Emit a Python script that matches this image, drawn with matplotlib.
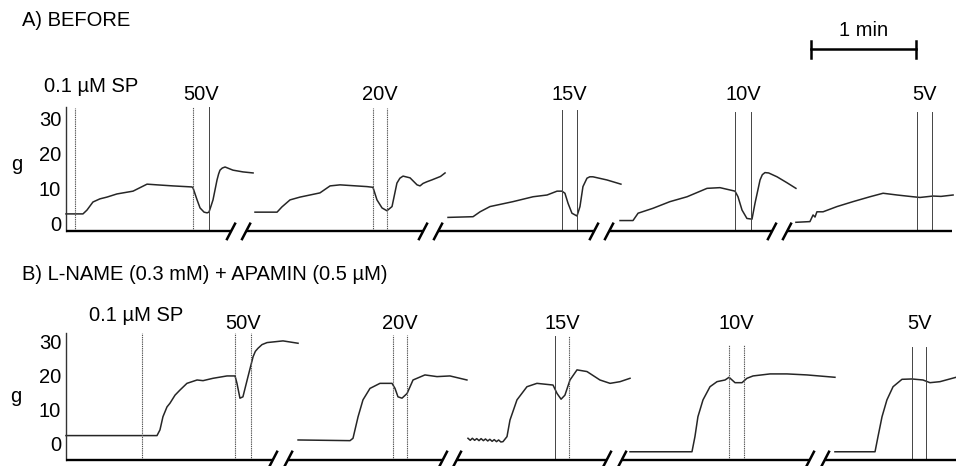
import matplotlib
matplotlib.use("Agg")
import matplotlib.pyplot as plt

plt.rcParams["font.family"] = ["Liberation Sans", "DejaVu Sans"]
plt.rcParams["font.size"] = 14.5

# ---------------------------------------------------------------------------
# Tension recordings (time in s along the displayed chart, tension in g)
# ---------------------------------------------------------------------------
# A) before
a1_t = [0, 9.7, 12.0, 15.4, 19.4, 23.4, 29.1, 38.3, 42.3, 46.3, 52.0, 61.1, 72.0, 72.6,
        74.9, 76.6, 78.9, 80.6, 81.7, 82.9, 84.0, 86.3, 87.2, 88.0, 89.3, 90.9, 95.4,
        101.1, 106.9]
a1_g = [2.6, 2.6, 3.7, 6.0, 6.9, 7.4, 8.3, 9.1, 10.1, 11.1, 10.9, 10.6, 10.3, 10.0,
        6.6, 4.3, 3.1, 2.9, 3.1, 4.9, 6.6, 12.3, 14.0, 15.1, 15.7, 16.0, 15.1,
        14.6, 14.3]

a2_t = [108.0, 120.6, 123.4, 128.0, 133.7, 145.1, 150.9, 156.6, 172.0, 175.4, 177.7,
        180.6, 183.4, 186.3, 189.1, 190.8, 192.6, 196.6, 200.6, 202.3, 204.0, 206.3,
        209.0, 212.0, 214.0, 216.6]
a2_g = [3.1, 3.1, 4.6, 6.6, 7.4, 8.6, 10.6, 10.9, 10.4, 10.2, 6.6,
        4.3, 3.5, 4.7, 11.4, 12.8, 13.4, 12.9, 10.9, 10.6, 11.3, 11.8,
        12.3, 12.9, 13.3, 14.3]

a3_t = [218.3, 232.6, 236.6, 242.3, 255.4, 266.9, 274.9, 280.6, 283.4, 285.1, 286.9,
        289.1, 292.0, 293.7, 295.4, 297.7, 299.3, 301.1, 309.1, 317.1]
a3_g = [1.6, 1.8, 3.2, 4.7, 6.1, 7.5, 8.0, 9.1, 9.1, 8.5, 5.6,
        2.8, 2.0, 4.7, 10.4, 12.8, 13.2, 13.2, 12.3, 11.1]

a4_t = [316.6, 324.0, 326.9, 335.4, 345.1, 354.9, 366.3, 373.7, 382.3, 384.0, 386.3,
        389.1, 392.0, 393.7, 396.6, 397.9, 399.4, 401.5, 406.3, 412.0, 417.1]
a4_g = [0.7, 0.7, 2.8, 4.2, 6.1, 7.5, 9.9, 10.1, 9.1, 7.5, 3.7,
        1.3, 1.1, 5.6, 12.3, 13.8, 14.4, 14.3, 13.2, 11.5, 9.9]

a5_t = [417.1, 425.1, 426.9, 428.0, 429.1, 432.6, 440.6, 449.7, 459.4, 466.9, 474.9,
        484.0, 488.0, 495.4, 500.0, 506.9]
a5_g = [0.2, 0.4, 2.3, 1.7, 3.2, 3.2, 4.7, 6.1, 7.5, 8.5, 8.0,
        7.5, 7.3, 7.7, 7.6, 8.0]

# B) L-NAME + apamin
b1_t = [0, 52.0, 53.7, 55.4, 57.7, 59.4, 62.3, 65.1, 69.1, 74.9, 78.3, 84.0, 92.0,
        96.6, 97.7, 99.4, 101.1, 104.0, 106.9, 108.2, 109.7, 112.0, 114.9, 124.0, 132.6]
b1_g = [2.2, 2.2, 3.9, 7.8, 10.7, 11.8, 14.2, 15.7, 17.7, 18.7, 18.5, 19.2, 19.9,
        19.9, 17.7, 13.3, 13.7, 19.7, 25.6, 27.2, 28.1, 29.2, 29.8, 30.3, 29.6]

b2_t = [132.6, 162.3, 164.0, 166.9, 169.7, 173.7, 179.4, 186.3, 188.0, 189.7, 192.0,
        194.9, 198.3, 205.1, 212.0, 219.4, 229.1]
b2_g = [0.9, 0.7, 1.4, 7.8, 12.8, 16.2, 17.7, 17.7, 16.2, 13.7, 13.3,
        14.7, 18.7, 20.2, 19.7, 19.9, 18.7]

b3_t = [229.7, 231.0, 232.2, 233.5, 234.7, 236.0, 237.2, 238.5, 239.7, 241.0, 242.2,
        243.5, 244.7, 246.0, 247.2, 248.5, 249.7, 252.0, 253.7, 257.7, 263.4, 269.1,
        278.3, 280.6, 282.9, 285.1, 288.0, 292.0, 297.7, 305.1, 310.9, 316.6, 322.3]
b3_g = [1.4, 0.8, 1.4, 0.8, 1.3, 0.7, 1.3, 0.7, 1.2, 0.6, 1.1,
        0.5, 1.0, 0.4, 0.9, 0.3, 0.4, 1.9, 6.8, 12.8, 16.7, 17.7,
        17.2, 14.7, 13.0, 14.2, 18.7, 21.7, 21.2, 18.7, 17.7, 18.2, 19.2]

b4_t = [322.3, 357.7, 359.4, 361.1, 364.0, 368.0, 372.0, 376.6, 378.9, 382.3, 386.3,
        389.1, 392.6, 402.3, 412.0, 423.4, 439.4]
b4_g = [-2.6, -2.6, 1.9, 7.8, 12.8, 16.7, 18.2, 18.7, 19.5, 17.9, 17.9,
        19.2, 19.9, 20.5, 20.5, 20.2, 19.5]

b5_t = [439.4, 462.3, 464.0, 466.3, 469.1, 472.6, 477.7, 483.4, 489.7, 493.7, 499.4, 508.6]
b5_g = [-2.6, -2.6, 1.9, 7.8, 12.8, 16.7, 18.9, 19.0, 18.7, 17.9, 18.2, 19.5]

# Stimulation markers (field stimulation voltage, start / end of train, s)
stim_labels = ["50V", "20V", "15V", "10V", "5V"]
a_stim_t = [(72.4, 81.9), (175.3, 183.3), (283.6, 291.8), (382.3, 391.4), (486.1, 494.7)]
a_stim_top = [33.1, 32.9, 32.3, 31.7, 31.7]
b_stim_t = [(96.6, 105.5), (187.0, 194.7), (279.4, 287.6), (379.0, 387.4), (483.6, 491.3)]
b_stim_top = [32.6, 32.0, 31.8, 29.1, 28.6]
# dotted (True) or solid (False) marker lines for each train
a_stim_dotted = [(True, False), (True, True), (False, False), (False, False), (False, False)]
b_stim_dotted = [(True, True), (True, True), (False, True), (True, True), (False, False)]

sp_label = "0.1 µM SP"
a_sp_t, b_sp_t = 5.1, 43.3

# Breaks in the time axis
a_breaks = [(94.3, 102.9), (204.0, 212.6), (301.7, 310.3), (403.4, 412.0)]
b_breaks = [(118.3, 126.9), (215.4, 223.4), (309.1, 317.7), (425.1, 433.7)]

y_ticks = [0, 10, 20, 30]
scale_bar_s = 60

# ---------------------------------------------------------------------------
W, H = 956, 466
fig = plt.figure(figsize=(W / 100, H / 100), dpi=100)


def px_box(x0, y0, x1, y1):
    return [x0 / W, 1 - y1 / H, (x1 - x0) / W, (y1 - y0) / H]


T_END = 890 / 1.75
axA = fig.add_axes(px_box(66, 100, 956, 240))
axA.set_xlim(0, T_END)
axA.set_ylim(-4.857, 35.143)
axB = fig.add_axes(px_box(66, 320, 956, 466))
axB.set_xlim(0, T_END)
axB.set_ylim(-6.825, 36.5)

TRACE = "#262626"


def draw_panel(ax, segments, stim_t, stim_top, stim_dotted, sp_t, sp_top,
               sp_xy, label_y, axis_y, breaks, slash_dg, axis_end):
    ax.patch.set_alpha(0)
    for s in ax.spines.values():
        s.set_visible(False)
    ax.set_xticks([])
    ax.set_yticks(y_ticks)
    ax.tick_params(axis="y", length=0, pad=3.5, labelsize=14.5)

    # traces
    for t, g in segments:
        ax.plot(t, g, color=TRACE, lw=1.1, clip_on=False, solid_joinstyle="round")

    # stimulation markers
    for (t0, t1), top, dots, lab in zip(stim_t, stim_top, stim_dotted, stim_labels):
        for tt, d in zip((t0, t1), dots):
            if d:
                ax.plot([tt, tt], [axis_y, top], color="#555555", lw=0.8,
                        ls=(0, (1.2, 0.8)), clip_on=False)
            else:
                ax.plot([tt, tt], [axis_y, top], color="#444444", lw=0.7,
                        clip_on=False)
        ax.text((t0 + t1) / 2, label_y, lab, ha="center", va="center")

    # substance P addition
    ax.plot([sp_t, sp_t], [axis_y, sp_top], color="#555555", lw=0.8,
            ls=(0, (1.2, 0.8)), clip_on=False)
    ax.text(sp_xy[0], sp_xy[1], sp_label, ha="center", va="center")

    # vertical (tension) axis
    ax.plot([0, 0], [axis_y, stim_top[0]], color="#333333", lw=1.0, clip_on=False)

    # broken time axis
    edges = [0] + [b for pair in breaks for b in pair] + [axis_end]
    for x0, x1 in zip(edges[0::2], edges[1::2]):
        ax.plot([x0, x1], [axis_y, axis_y], color="black", lw=1.7,
                solid_capstyle="butt", clip_on=False)
    for pair in breaks:
        for b in pair:
            ax.plot([b - 2.3, b + 2.3], [axis_y - slash_dg, axis_y + slash_dg],
                    color="black", lw=1.8, clip_on=False)


draw_panel(axA, [(a1_t, a1_g), (a2_t, a2_g), (a3_t, a3_g), (a4_t, a4_g), (a5_t, a5_g)],
           a_stim_t, a_stim_top, a_stim_dotted, a_sp_t, 32.9,
           (14.3, 39.1), 36.6, -2.4, a_breaks, 2.2, 506.3)
draw_panel(axB, [(b1_t, b1_g), (b2_t, b2_g), (b3_t, b3_g), (b4_t, b4_g), (b5_t, b5_g)],
           b_stim_t, b_stim_top, b_stim_dotted, b_sp_t, 32.6,
           (40.0, 37.7), 35.6, -4.9, b_breaks, 2.3, T_END)

# time scale bar (1 min)
sb0 = 425.8
sb_y = 49.6
axA.plot([sb0, sb0 + scale_bar_s], [sb_y, sb_y], color="black", lw=1.8, clip_on=False)
for x in (sb0, sb0 + scale_bar_s):
    axA.plot([x, x], [sb_y - 2.4, sb_y + 2.4], color="black", lw=1.8, clip_on=False)
axA.text(sb0 + scale_bar_s / 2, 55.1, "1 min", ha="center", va="center")

# axis unit labels and panel titles
fig.text(17 / W, 1 - 164 / H, "g", ha="center", va="center")
fig.text(16 / W, 1 - 396 / H, "g", ha="center", va="center")
fig.text(22 / W, 1 - 20 / H, "A) BEFORE", ha="left", va="center")
fig.text(22 / W, 1 - 274 / H, "B) L-NAME (0.3 mM) + APAMIN (0.5 µM)",
         ha="left", va="center")

fig.savefig("out.png", dpi=100, facecolor="white")
